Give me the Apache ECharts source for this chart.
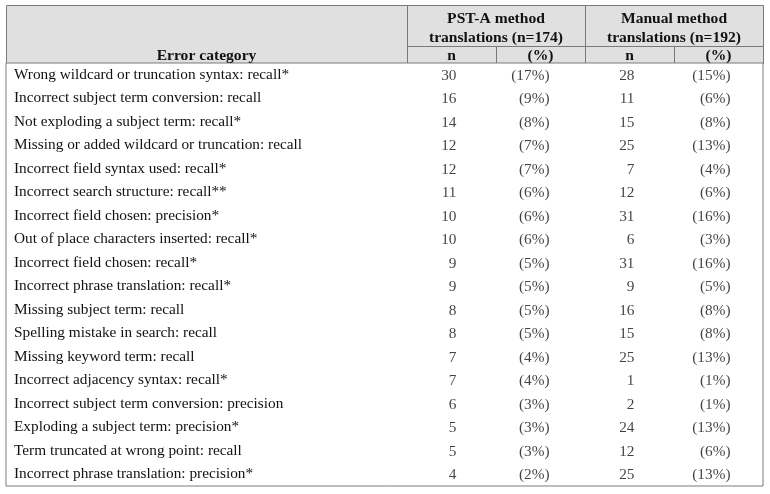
<!DOCTYPE html>
<html><head><meta charset="utf-8">
<script src="https://cdn.jsdelivr.net/npm/echarts@6/dist/echarts.min.js"></script>
<style>html,body{margin:0;padding:0;background:#fff}#c{width:770px;height:494px}</style>
</head><body><div id="c"></div>
<script>
const categories = [
  "Wrong wildcard or truncation syntax: recall*",
  "Incorrect subject term conversion: recall",
  "Not exploding a subject term: recall*",
  "Missing or added wildcard or truncation: recall",
  "Incorrect field syntax used: recall*",
  "Incorrect search structure: recall**",
  "Incorrect field chosen: precision*",
  "Out of place characters inserted: recall*",
  "Incorrect field chosen: recall*",
  "Incorrect phrase translation: recall*",
  "Missing subject term: recall",
  "Spelling mistake in search: recall",
  "Missing keyword term: recall",
  "Incorrect adjacency syntax: recall*",
  "Incorrect subject term conversion: precision",
  "Exploding a subject term: precision*",
  "Term truncated at wrong point: recall",
  "Incorrect phrase translation: precision*"
];
const pstN   = [30,16,14,12,12,11,10,10,9,9,8,8,7,7,6,5,5,4];
const pstPct = [17,9,8,7,7,6,6,6,5,5,5,5,4,4,3,3,3,2];
const manN   = [28,11,15,25,7,12,31,6,31,9,16,15,25,1,2,24,12,25];
const manPct = [15,6,8,13,4,6,16,3,16,5,8,8,13,1,1,13,6,13];
const headerGroups = ["PST-A method\ntranslations (n=174)", "Manual method\ntranslations (n=192)"];
const headerSub = ["n", "(%)", "n", "(%)"];
const headerFirst = "Error category";

const FONT = "Liberation Serif";
const FS = 15.3;
const HFS = 15.6;
const TXT = "#111";
const LINE = "#7a7a7a";
// layout (pixel columns)
const L = 6, R = 763, T = 5, HM = 46, HB = 63, B = 486;
const cA = 407, cB = 496, cC = 585, cD = 674;
const colRight = [457, 550, 635, 731];

function mk(vals, xr, fmt){
  return {
    type: 'scatter', symbolSize: 1, itemStyle: {color: 'rgba(0,0,0,0)'},
    silent: true,
    data: vals.map((v,i)=>[xr, i, v]),
    label: {show: true, position: 'left', distance: 0, color: TXT,
      fontFamily: FONT, fontSize: FS, offset: [0, 1],
      formatter: p => fmt(p.value[2])}
  };
}

const chart = echarts.init(document.getElementById('c'), null, {renderer:'canvas'});
const hdrText = (x, y, s) => ({type:'text', x, y, style:{text:s, fill:TXT,
  font:'bold '+HFS+'px "'+FONT+'"', align: 'center', verticalAlign:'middle', lineHeight:19}});
const ln = (x1,y1,x2,y2) => ({type:'line', shape:{x1,y1,x2,y2}, style:{stroke:LINE, lineWidth:1}});
chart.setOption({
  animation: false,
  backgroundColor: '#fff',
  grid: {left: L, top: HB, right: 770-R, bottom: 494-B, show: true,
         borderColor: LINE, borderWidth: 1, backgroundColor: '#fff'},
  xAxis: {type: 'value', min: L, max: R, show: false},
  yAxis: {type: 'category', data: categories, inverse: true,
    axisLine: {show: false}, axisTick: {show: false}, splitLine: {show: false},
    axisLabel: {inside: true, margin: 8, color: TXT, fontFamily: FONT, fontSize: FS, align: 'left',
      padding: [2, 0, 0, 0]}},
  series: [
    mk(pstN, colRight[0], v=>String(v)),
    mk(pstPct, colRight[1], v=>'('+v+'%)'),
    mk(manN, colRight[2], v=>String(v)),
    mk(manPct, colRight[3], v=>'('+v+'%)')
  ],
  graphic: [
    {type:'rect', shape:{x:L+0.5, y:T+0.5, width:R-L, height:HB-T}, style:{fill:'#e0e0e0', stroke:LINE, lineWidth:1}, z:-1},
    ln(cA+0.5, T, cA+0.5, HB), ln(cC+0.5, T, cC+0.5, HB),
    ln(cA, HM+0.5, R, HM+0.5),
    ln(cB+0.5, HM, cB+0.5, HB), ln(cD+0.5, HM, cD+0.5, HB),
    hdrText((L+cA)/2, 55.5, headerFirst),
    hdrText((cA+cC)/2, 28, headerGroups[0]),
    hdrText((cC+R)/2, 28, headerGroups[1]),
    hdrText((cA+cB)/2, 55.5, headerSub[0]),
    hdrText((cB+cC)/2, 55.5, headerSub[1]),
    hdrText((cC+cD)/2, 55.5, headerSub[2]),
    hdrText((cD+R)/2, 55.5, headerSub[3])
  ]
});
</script></body></html>
